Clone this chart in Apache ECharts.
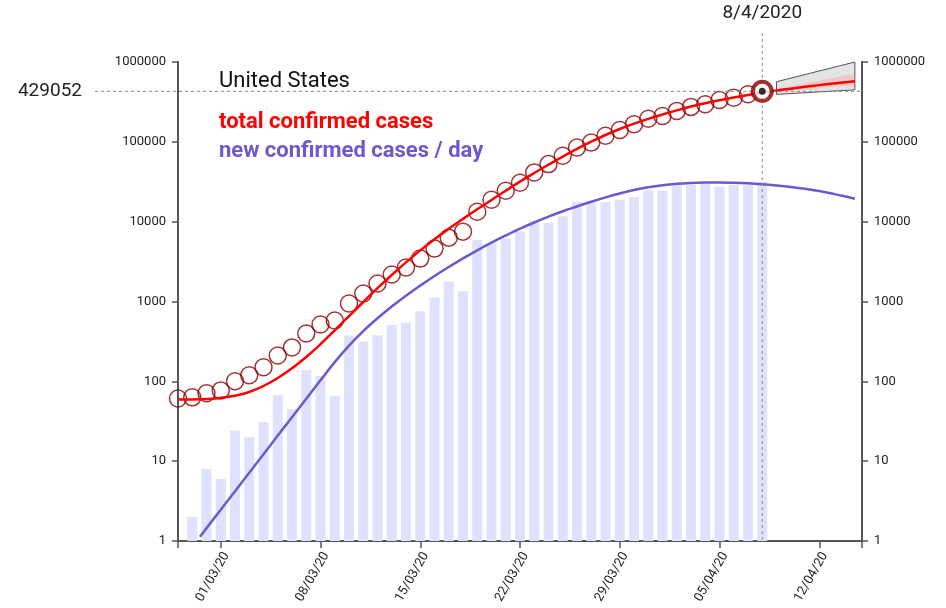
<!DOCTYPE html>
<html><head><meta charset="utf-8">
<script src="https://cdn.jsdelivr.net/npm/echarts@6/dist/echarts.min.js"></script>
<style>html,body{margin:0;padding:0;background:#fff}#c{width:946px;height:608px}</style>
</head><body><div id="c"></div>
<script>
// x axis categories (day index 0 = 27/02/20)
const dates = ['27/02/20','28/02/20','29/02/20','01/03/20','02/03/20','03/03/20','04/03/20','05/03/20','06/03/20','07/03/20',
'08/03/20','09/03/20','10/03/20','11/03/20','12/03/20','13/03/20','14/03/20','15/03/20','16/03/20','17/03/20',
'18/03/20','19/03/20','20/03/20','21/03/20','22/03/20','23/03/20','24/03/20','25/03/20','26/03/20','27/03/20',
'28/03/20','29/03/20','30/03/20','31/03/20','01/04/20','02/04/20','03/04/20','04/04/20','05/04/20','06/04/20',
'07/04/20','08/04/20','09/04/20','10/04/20','11/04/20','12/04/20','13/04/20','14/04/20','15/04/20'];

// total confirmed cases, day index 0..41
const totalCases = [61,63,71,77,100,119,150,211,266,398,516,579,944,1259,1679,2175,2661,3447,4597,6310,
7500,13335,18840,24400,30700,41400,52600,66800,85000,97800,119000,141000,166000,195000,211000,244000,
274000,296000,335000,357000,395000,429052];

// new confirmed cases / day, day index 1..41
const newCases = [2,8,6,24,20,31,67,45,140,117,65,376,316,379,506,541,757,1122,1778,1346,
5900,5350,6160,7560,10290,9700,11660,17600,17000,17600,18840,20300,24500,24500,28700,28700,31600,27400,28700,28700,31600];
const newStart = 1;

// fitted total curve
const redFitX = [0,1,2,3,4,5,6,7,8,9,10,11,12,13,14,15,16,17,18,19,20,21,22,23,24,25,26,27,28,29,30,31,32,33,34,35,36,37,38,39,40,41,42,43,44,45,46,47,47.5];
const redFit = [59.1,59.2,60.1,62,65.9,73.5,87.4,110,146,202,292,435,655,986,1468,2148,3090,4368,6033,8143,10835,14295,18690,24440,
31780,40720,51730,65350,81600,100440,121830,144880,168800,193900,220100,247700,276400,305000,332400,359300,386300,412800,
438500,463800,488700,513200,537400,561200,573500];

// fitted new-cases curve
const blueFitX = [1.54,2,3,4,5,6,7,8,9,10,11,12,13,14,15,16,17,18,19,20,21,22,23,24,25,26,27,28,29,30,31,32,33,34,35,36,37,38,39,40,41,42,43,44,45,46,47,47.5];
const blueFit = [1.13,1.45,2.47,4.21,7.17,12.2,20.9,35.6,60.6,103,174,280,425,616,866,1183,1582,2087,2706,3467,4381,5455,6713,8168,
9765,11540,13490,15500,17740,20150,22570,24900,26960,28600,29790,30520,30870,30920,30690,30210,29440,28430,27230,25810,
24160,22280,20350,19380];

// forecast bands
const bandX = [42, 47.5];
const bandUpper = [566000, 1000000];
const bandLower = [393000, 448000];
const innerUpper = [455000, 719000];
const innerLower = [428000, 510000];

const lastIndex = 41;
const lastValue = 429052;
const lastLabel = '8/4/2020';
const countryName = 'United States';

const chart = echarts.init(document.getElementById('c'), null, {renderer: 'canvas'});
const FONT = 'Roboto';
const axisColor = '#555';

function yAxisCfg(pos) {
  return {
    type: 'log', logBase: 10, min: 1, max: 1000000, position: pos,
    axisLine: {show: true, lineStyle: {color: axisColor, width: 2}},
    axisTick: {show: true, length: 6, lineStyle: {color: axisColor, width: 1.5}},
    axisLabel: {fontSize: 13, color: '#222', fontFamily: FONT, margin: 12,
      formatter: v => String(Math.round(v))},
    splitLine: {show: false}
  };
}

const option = {
  animation: false,
  backgroundColor: '#fff',
  grid: {left: 178, right: 84, top: 62, bottom: 67},
  xAxis: [
    {
      type: 'category', data: dates, boundaryGap: false,
      axisLine: {lineStyle: {color: axisColor, width: 2}},
      axisTick: {interval: i => i === 0 || i === dates.length - 1 || (i - 3) % 7 === 0, length: 7,
        lineStyle: {color: axisColor, width: 1.5}},
      axisLabel: {interval: i => i >= 3 && (i - 3) % 7 === 0, rotate: 60, fontSize: 13, color: '#222',
        fontFamily: FONT, margin: 9, verticalAlign: 'top'},
      splitLine: {show: false}
    },
    {type: 'value', min: 0, max: dates.length - 1, show: false}
  ],
  yAxis: [yAxisCfg('left'), yAxisCfg('right')],
  series: [
    {
      type: 'bar', xAxisIndex: 1, yAxisIndex: 0, barWidth: 10, z: 1,
      itemStyle: {color: 'rgb(224,224,255)'},
      data: newCases.map((v, k) => [k + newStart, v])
    },
    {
      type: 'custom', xAxisIndex: 1, yAxisIndex: 0, z: 2,
      data: [0],
      renderItem: function (params, api) {
        const outer = [];
        bandX.forEach((x, k) => outer.push(api.coord([x, bandUpper[k]])));
        for (let k = bandX.length - 1; k >= 0; k--) outer.push(api.coord([bandX[k], bandLower[k]]));
        const inner = [];
        bandX.forEach((x, k) => inner.push(api.coord([x, innerUpper[k]])));
        for (let k = bandX.length - 1; k >= 0; k--) inner.push(api.coord([bandX[k], innerLower[k]]));
        return {type: 'group', children: [
          {type: 'polygon', shape: {points: outer}, style: {fill: '#e4e4e4', stroke: '#555', lineWidth: 1}},
          {type: 'polygon', shape: {points: inner}, style: {fill: 'rgba(255,120,120,0.25)', stroke: null}}
        ]};
      }
    },
    {
      type: 'line', xAxisIndex: 1, yAxisIndex: 0, z: 3, showSymbol: false, smooth: 0.4,
      lineStyle: {color: '#6a5acd', width: 2.5},
      data: blueFitX.map((x, k) => [x, blueFit[k]])
    },
    {
      type: 'scatter', xAxisIndex: 1, yAxisIndex: 0, z: 4, symbol: 'circle', symbolSize: 17,
      itemStyle: {color: 'rgba(255,255,255,0)', borderColor: '#8b0000', borderWidth: 1.5},
      data: totalCases.slice(0, totalCases.length - 1).map((v, k) => [k, v])
    },
    {
      type: 'line', xAxisIndex: 1, yAxisIndex: 0, z: 5, showSymbol: false, smooth: 0.4,
      lineStyle: {color: '#ff0000', width: 2.5},
      data: redFitX.map((x, k) => [x, redFit[k]])
    },
    {
      type: 'scatter', xAxisIndex: 1, yAxisIndex: 0, z: 8, symbol: 'circle', symbolSize: 19,
      itemStyle: {color: '#fff', borderColor: '#8b0000', borderWidth: 4},
      data: [[lastIndex, totalCases[lastIndex]]]
    },
    {
      type: 'scatter', xAxisIndex: 1, yAxisIndex: 0, z: 9, symbol: 'circle', symbolSize: 7,
      itemStyle: {color: '#000'},
      data: [[lastIndex, totalCases[lastIndex]]]
    }
  ]
};
chart.setOption(option);

const p = chart.convertToPixel({xAxisIndex: 1, yAxisIndex: 0}, [lastIndex, lastValue]);
const rightEnd = chart.convertToPixel({xAxisIndex: 1}, dates.length - 1);
const bottom = chart.convertToPixel({yAxisIndex: 0}, 1);
const dash = {stroke: '#888', lineWidth: 1, lineDash: [3, 3]};
chart.setOption({
  graphic: [
    {type: 'line', z: 6, shape: {x1: 95, y1: p[1], x2: rightEnd - 2, y2: p[1]}, style: dash, silent: true},
    {type: 'line', z: 6, shape: {x1: p[0], y1: 33, x2: p[0], y2: bottom}, style: dash, silent: true},
    {type: 'text', x: 82, y: p[1], style: {text: String(lastValue), font: '19px Roboto', fill: '#222', align: 'right', verticalAlign: 'middle'}},
    {type: 'text', x: p[0], y: 13, style: {text: lastLabel, font: '19px Roboto', fill: '#222', align: 'center', verticalAlign: 'middle'}},
    {type: 'text', x: 219, y: 81, style: {text: countryName, font: '22px Roboto', fill: '#111', align: 'left', verticalAlign: 'middle'}},
    {type: 'text', x: 219, y: 122, style: {text: 'total confirmed cases', font: 'bold 22px Roboto', fill: '#ff0000', align: 'left', verticalAlign: 'middle'}},
    {type: 'text', x: 219, y: 151, style: {text: 'new confirmed cases / day', font: 'bold 22px Roboto', fill: '#6a5acd', align: 'left', verticalAlign: 'middle'}}
  ]
});
</script></body></html>
